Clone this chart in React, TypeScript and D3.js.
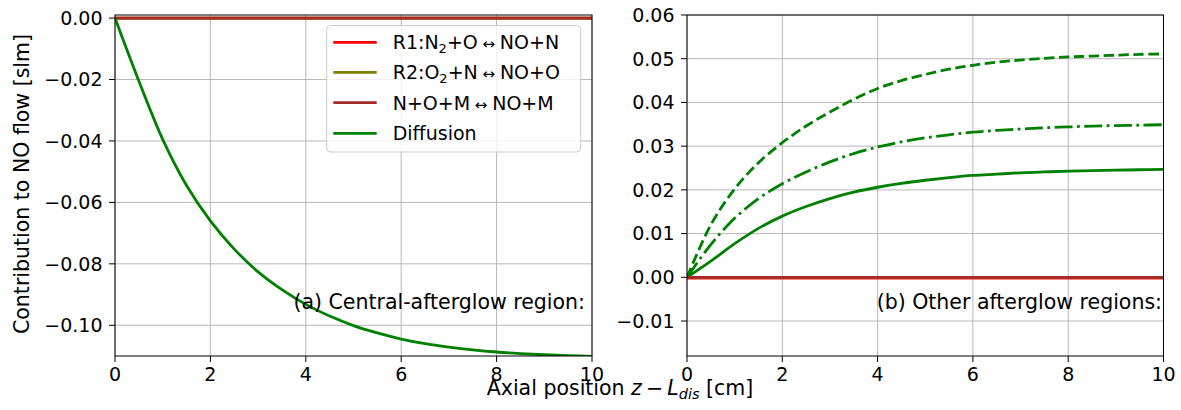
import React from "react";
import * as d3 from "d3";

// ---------- data ----------
const xs = [0, 0.5, 1, 1.5, 2, 2.5, 3, 3.5, 4, 4.5, 5, 5.5, 6, 6.5, 7, 7.5, 8, 8.5, 9, 9.5, 10];

// (a) central-afterglow region: diffusion contribution
const diffusionCentral = [0, -0.0205, -0.0395, -0.0545, -0.066, -0.0752, -0.0826, -0.0884, -0.0932, -0.097, -0.1001, -0.1025, -0.1045, -0.106, -0.1071, -0.108, -0.1087, -0.1092, -0.1096, -0.1099, -0.1101];

// (b) other afterglow regions: diffusion contributions
const diffusionSolid = [0, 0.0037, 0.0077, 0.0112, 0.014, 0.0162, 0.018, 0.0195, 0.0206, 0.0215, 0.0222, 0.0228, 0.0233, 0.0236, 0.0239, 0.0241, 0.0243, 0.0244, 0.0245, 0.0246, 0.0247];
const diffusionDashed = [0, 0.012, 0.0202, 0.0262, 0.0308, 0.0346, 0.0378, 0.0407, 0.0432, 0.045, 0.0464, 0.0476, 0.0485, 0.0492, 0.0497, 0.0501, 0.0504, 0.0506, 0.0508, 0.051, 0.0511];
const diffusionDashDot = [0, 0.0075, 0.0135, 0.018, 0.0214, 0.0241, 0.0264, 0.0283, 0.0298, 0.031, 0.0319, 0.0326, 0.0332, 0.0336, 0.0339, 0.0342, 0.0344, 0.0346, 0.0347, 0.0348, 0.0349];

// reaction contributions (all zero)
const reactionR1 = xs.map(() => 0);
const reactionR2 = xs.map(() => 0);
const reactionR3 = xs.map(() => 0);

const xTicks = [0, 2, 4, 6, 8, 10];
const yTicksLeft = [0, -0.02, -0.04, -0.06, -0.08, -0.1];
const yTicksRight = [-0.01, 0, 0.01, 0.02, 0.03, 0.04, 0.05, 0.06];

const COLORS = { r1: "#ff0000", r2: "#808000", r3: "#a52a2a", diff: "#008000" };

const FONT = "DejaVu Sans, sans-serif";
const FS = 19;
const FS_LABEL = 20.5;

function fmt(v: number) {
  const s = Math.abs(v).toFixed(2);
  return (v < -1e-9 ? "\u2212" : "") + s;
}

type PanelProps = {
  left: number;
  right: number;
  top: number;
  bottom: number;
  yDomain: [number, number];
  yTicks: number[];
  children: (x: d3.ScaleLinear<number, number>, y: d3.ScaleLinear<number, number>) => React.ReactNode;
};

function Panel({ left, right, top, bottom, yDomain, yTicks, children }: PanelProps) {
  const x = d3.scaleLinear().domain([0, 10]).range([left, right]);
  const y = d3.scaleLinear().domain(yDomain).range([bottom, top]);
  const clipId = `clip-${Math.round(left)}`;
  return (
    <g>
      <defs>
        <clipPath id={clipId}>
          <rect x={left} y={top} width={right - left} height={bottom - top} />
        </clipPath>
      </defs>
      {xTicks.map((t) => (
        <line key={"gx" + t} x1={x(t)} x2={x(t)} y1={top} y2={bottom} stroke="#b0b0b0" strokeWidth={0.9} />
      ))}
      {yTicks.map((t) => (
        <line key={"gy" + t} x1={left} x2={right} y1={y(t)} y2={y(t)} stroke="#b0b0b0" strokeWidth={0.9} />
      ))}
      <g clipPath={`url(#${clipId})`}>{children(x, y)}</g>
      <rect x={left} y={top} width={right - left} height={bottom - top} fill="none" stroke="#000" strokeWidth={1} />
      {xTicks.map((t) => (
        <g key={"tx" + t}>
          <line x1={x(t)} x2={x(t)} y1={bottom} y2={bottom + 6} stroke="#000" strokeWidth={1} />
          <text x={x(t)} y={380.7} textAnchor="middle" fontSize={FS} fontFamily={FONT} fill="#000">
            {t}
          </text>
        </g>
      ))}
      {yTicks.map((t) => (
        <g key={"ty" + t}>
          <line x1={left - 6} x2={left} y1={y(t)} y2={y(t)} stroke="#000" strokeWidth={1} />
          <text x={left - 12.5} y={y(t) + 6.9} textAnchor="end" fontSize={FS} fontFamily={FONT} fill="#000">
            {fmt(t)}
          </text>
        </g>
      ))}
    </g>
  );
}

function pathFor(x: d3.ScaleLinear<number, number>, y: d3.ScaleLinear<number, number>, vals: number[]) {
  const line = d3
    .line<number>()
    .x((_, i) => x(xs[i]))
    .y((d) => y(d))
    .curve(d3.curveCatmullRom.alpha(0.5));
  return line(vals) || "";
}

const LW = 2.8;

export default function App() {
  const top = 15;
  const bottom = 356;
  const legendRows = [
    { color: COLORS.r1, label: (<><tspan>R1:N</tspan><tspan fontSize={13} dy={4}>2</tspan><tspan dy={-4}>+O</tspan><tspan fontSize={15}>{" \u2194 "}</tspan><tspan>NO+N</tspan></>) },
    { color: COLORS.r2, label: (<><tspan>R2:O</tspan><tspan fontSize={13} dy={4}>2</tspan><tspan dy={-4}>+N</tspan><tspan fontSize={15}>{" \u2194 "}</tspan><tspan>NO+O</tspan></>) },
    { color: COLORS.r3, label: (<><tspan>N+O+M</tspan><tspan fontSize={15}>{" \u2194 "}</tspan><tspan>NO+M</tspan></>) },
    { color: COLORS.diff, label: (<tspan>Diffusion</tspan>) },
  ];
  const rowY = [42.3, 72.3, 102.7, 133.3];
  return (
    <svg
      width={1181}
      height={410}
      style={{ position: "absolute", left: 0, top: 0, background: "#fff" }}
      fontFamily={FONT}
    >
      <rect x={0} y={0} width={1181} height={410} fill="#fff" />
      <Panel left={115} right={592} top={top} bottom={bottom} yDomain={[-0.11, 0.001]} yTicks={yTicksLeft}>
        {(x, y) => (
          <g fill="none" strokeWidth={LW}>
            <path d={pathFor(x, y, reactionR1)} stroke={COLORS.r1} />
            <path d={pathFor(x, y, reactionR2)} stroke={COLORS.r2} />
            <path d={pathFor(x, y, reactionR3)} stroke={COLORS.r3} />
            <path d={pathFor(x, y, diffusionCentral)} stroke={COLORS.diff} />
          </g>
        )}
      </Panel>
      <Panel left={687} right={1163.5} top={top} bottom={bottom} yDomain={[-0.018, 0.06]} yTicks={yTicksRight}>
        {(x, y) => (
          <g fill="none" strokeWidth={LW}>
            <path d={pathFor(x, y, diffusionSolid)} stroke={COLORS.diff} />
            <path d={pathFor(x, y, diffusionDashed)} stroke={COLORS.diff} strokeDasharray="10.4,4.5" />
            <path d={pathFor(x, y, diffusionDashDot)} stroke={COLORS.diff} strokeDasharray="17.9,4.5,2.8,4.5" />
            <path d={pathFor(x, y, reactionR1)} stroke={COLORS.r1} transform="translate(0,0.8)" />
            <path d={pathFor(x, y, reactionR2)} stroke={COLORS.r2} />
            <path d={pathFor(x, y, reactionR3)} stroke={COLORS.r3} />
          </g>
        )}
      </Panel>

      <g>
        <rect x={326.7} y={25.5} width={254} height={126.5} rx={4} ry={4} fill="#fff" fillOpacity={0.8} stroke="#cccccc" strokeWidth={1} />
        {legendRows.map((r, i) => (
          <g key={i}>
            <line x1={333.3} x2={376.7} y1={rowY[i]} y2={rowY[i]} stroke={r.color} strokeWidth={LW} />
            <text x={392.7} y={rowY[i] + 6.9} fontSize={FS} fontFamily={FONT} fill="#000">
              {r.label}
            </text>
          </g>
        ))}
      </g>

      <text x={585} y={309} textAnchor="end" fontSize={FS_LABEL} fontFamily={FONT} fill="#000">
        (a) Central-afterglow region:
      </text>
      <text x={1162} y={309} textAnchor="end" fontSize={FS_LABEL} fontFamily={FONT} fill="#000">
        (b) Other afterglow regions:
      </text>

      <text
        transform={`translate(28.5,184) rotate(-90)`}
        textAnchor="middle"
        fontSize={FS_LABEL}
        fontFamily={FONT}
        fill="#000"
      >
        Contribution to NO flow [slm]
      </text>
      <text x={620} y={395} textAnchor="middle" fontSize={FS_LABEL} fontFamily={FONT} fill="#000">
        <tspan>Axial position </tspan>
        <tspan fontStyle="italic">z</tspan>
        <tspan>{"\u2009\u2212\u2009"}</tspan>
        <tspan fontStyle="italic">L</tspan>
        <tspan fontStyle="italic" fontSize={14.5} dy={4}>dis</tspan>
        <tspan dy={-4}>{" [cm]"}</tspan>
      </text>
    </svg>
  );
}
